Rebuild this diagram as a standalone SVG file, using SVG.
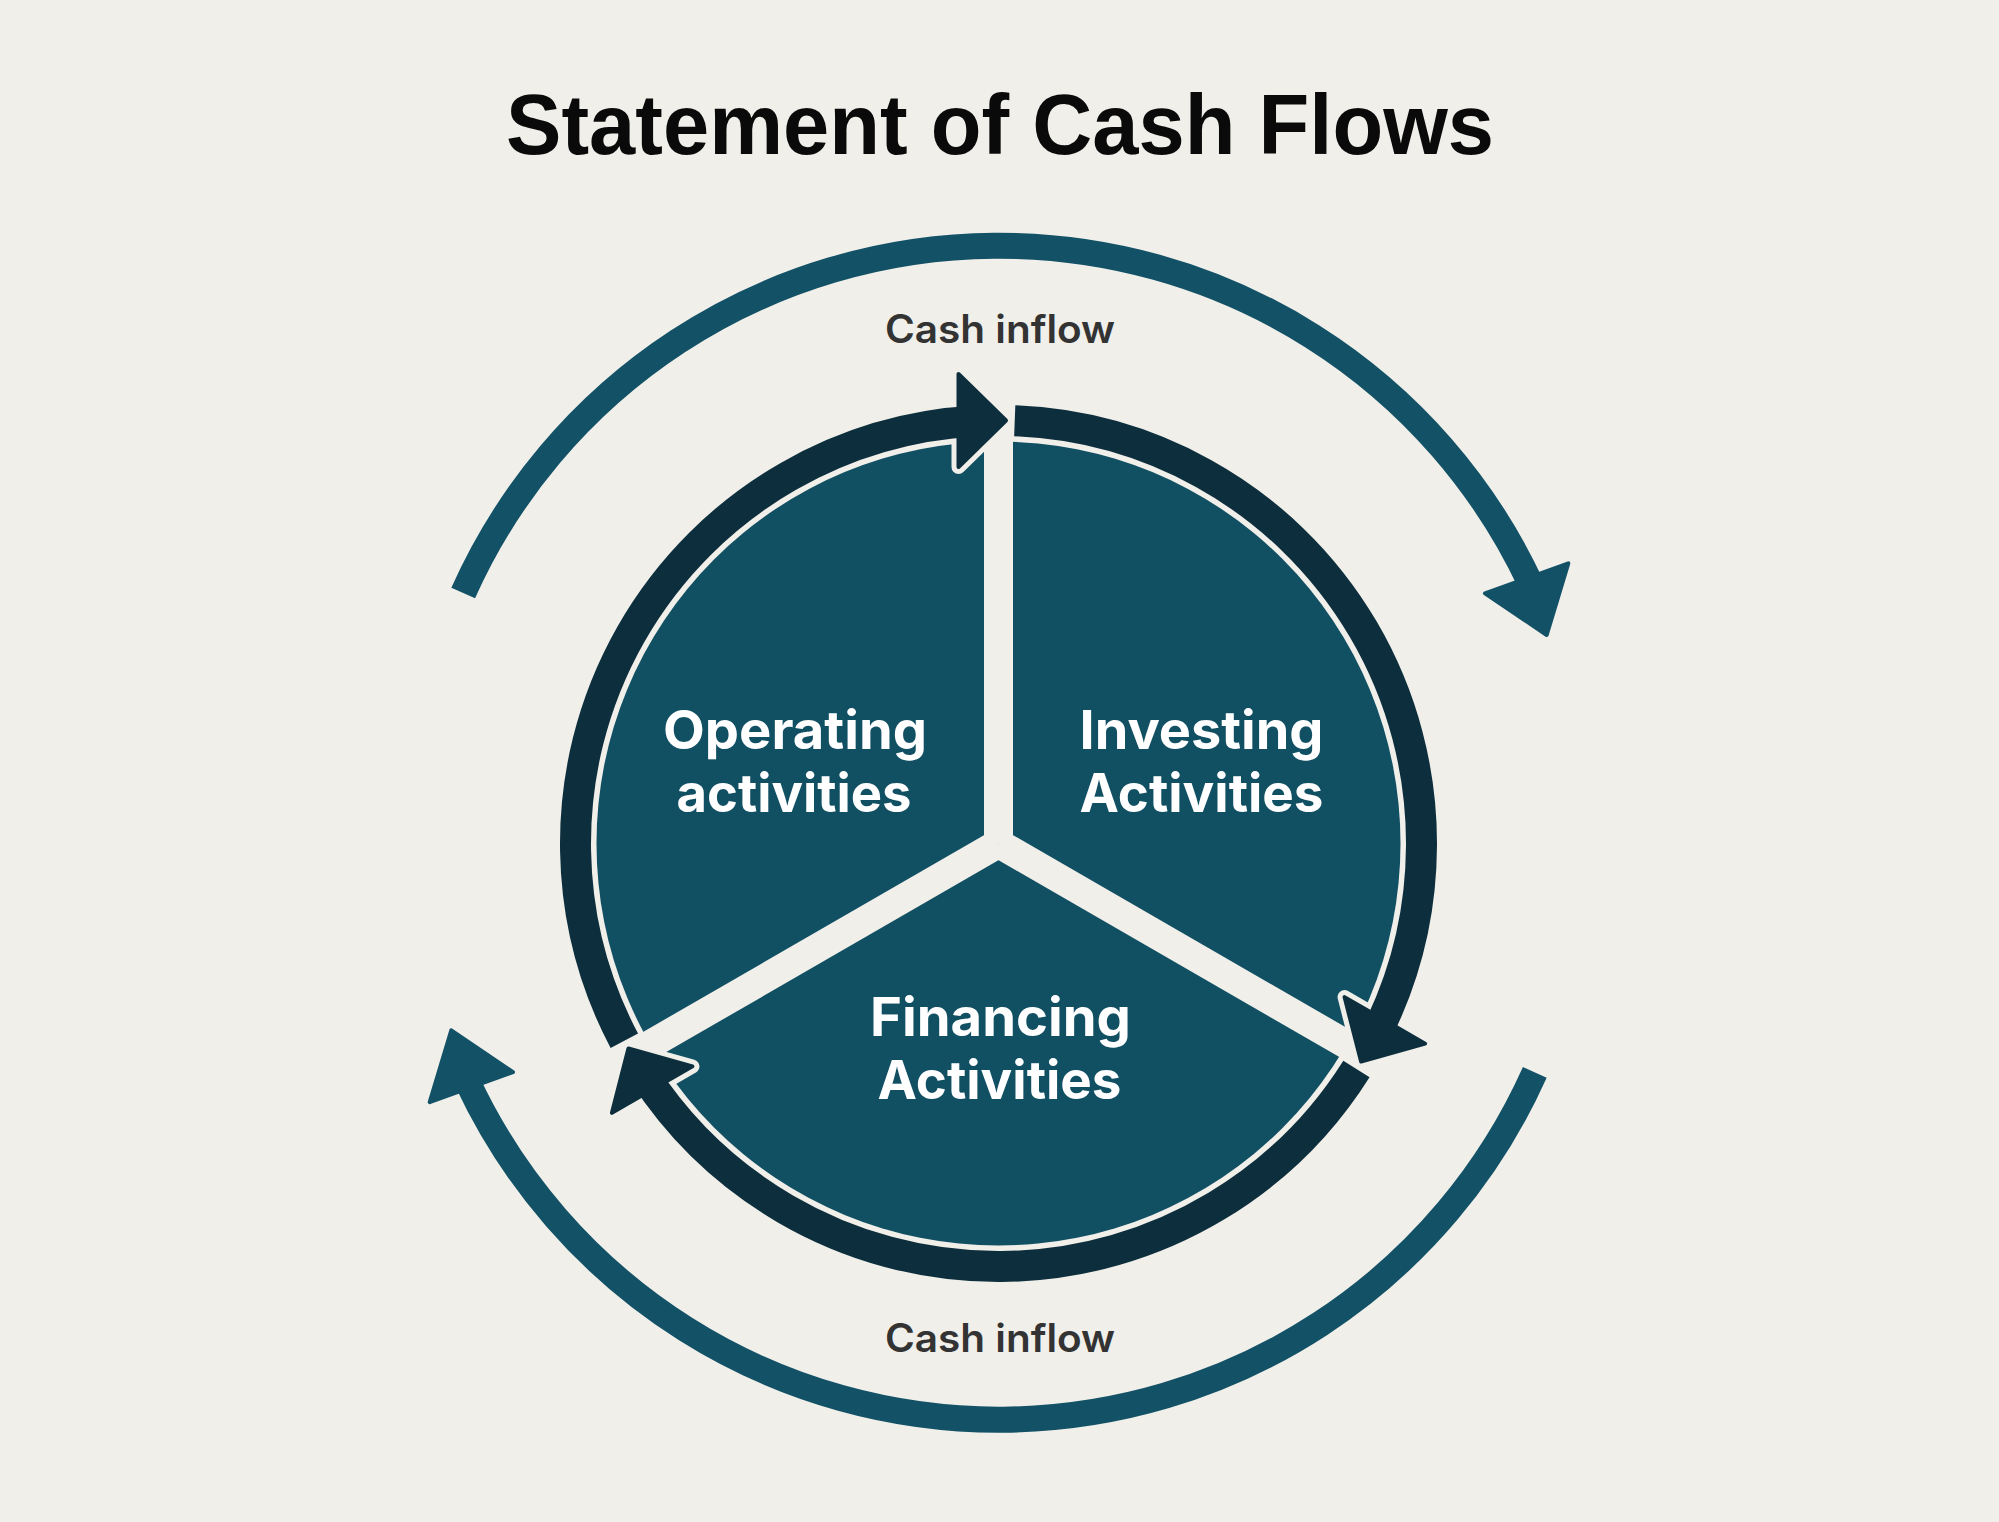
<svg xmlns="http://www.w3.org/2000/svg" xmlns:xlink="http://www.w3.org/1999/xlink" width="1999" height="1522" viewBox="0 0 1999 1522">
  <style>
    .bg { fill: #f0efea; }
    .title { font-family: "Liberation Sans", Arial, sans-serif; font-weight: 700; font-size: 86px; fill: #0a0a0a; }
    .flowlbl { font-family: Inter, "Liberation Sans", sans-serif; font-weight: 600; font-size: 39px; fill: #333333; }
    .lbl { font-family: Inter, "Liberation Sans", sans-serif; font-weight: 700; font-size: 53px; fill: #ffffff; }
    .pie { fill: #114f63; }
    .gap { stroke: #f0efea; stroke-width: 29; fill: none; }
    .ring { stroke: #0d2e3c; stroke-width: 31; fill: none; }
    .ahOut { fill: #f0efea; stroke: #f0efea; stroke-width: 14; stroke-linejoin: round; }
    .ahFill { fill: #0d2e3c; stroke: #0d2e3c; stroke-width: 4; stroke-linejoin: round; }
    .outer { stroke: #125166; stroke-width: 26; fill: none; }
    .outerHead { fill: #125166; stroke: #125166; stroke-width: 4; stroke-linejoin: round; }
  </style>
  <defs>
    <path id="ringSeg" d="M 624.32 1040.78 A 423 423 0 0 1 976.36 421.08"/>
    <polygon id="ah" points="958.5,374 958.5,467 1006,420.5"/>
    <g id="outerArrow">
      <path class="outer" d="M 463.2 593.0 A 587 587 0 0 1 1531.0 584.6"/>
      <polygon class="outerHead" points="1485,593.3 1568.3,563.3 1546.7,635"/>
    </g>
  </defs>

  <rect class="bg" x="0" y="0" width="1999" height="1522"/>

  <text class="title" x="1000" y="154" text-anchor="middle" textLength="988" lengthAdjust="spacingAndGlyphs">Statement of Cash Flows</text>

  <!-- pie base with section gaps -->
  <g id="nodes-base">
    <circle class="pie" cx="998.5" cy="843.5" r="402"/>
    <line class="gap" x1="998.5" y1="843.5" x2="998.5" y2="380"/>
    <line class="gap" x1="998.5" y1="843.5" x2="1400" y2="1075.3"/>
    <line class="gap" x1="998.5" y1="843.5" x2="597" y2="1075.3"/>
  </g>

  <g id="node-operating">
    <text class="lbl" x="795" y="749" text-anchor="middle" textLength="264" lengthAdjust="spacingAndGlyphs">Operating</text>
    <text class="lbl" x="794" y="812" text-anchor="middle" textLength="235" lengthAdjust="spacingAndGlyphs">activities</text>
  </g>
  <g id="node-investing">
    <text class="lbl" x="1201.5" y="749" text-anchor="middle" textLength="244" lengthAdjust="spacingAndGlyphs">Investing</text>
    <text class="lbl" x="1201.5" y="812" text-anchor="middle" textLength="244" lengthAdjust="spacingAndGlyphs">Activities</text>
  </g>
  <g id="node-financing">
    <text class="lbl" x="1000.5" y="1036" text-anchor="middle" textLength="261" lengthAdjust="spacingAndGlyphs">Financing</text>
    <text class="lbl" x="999.5" y="1099" text-anchor="middle" textLength="244" lengthAdjust="spacingAndGlyphs">Activities</text>
  </g>

  <g id="connectors">
    <!-- inner cycle ring -->
    <use xlink:href="#ah" class="ahOut"/>
    <use xlink:href="#ah" class="ahOut" transform="rotate(120 998.5 843.5)"/>
    <use xlink:href="#ah" class="ahOut" transform="rotate(240 998.5 843.5)"/>
    <use xlink:href="#ringSeg" class="ring"/>
    <use xlink:href="#ringSeg" class="ring" transform="rotate(120 998.5 843.5)"/>
    <use xlink:href="#ringSeg" class="ring" transform="rotate(240 998.5 843.5)"/>
    <use xlink:href="#ah" class="ahFill"/>
    <use xlink:href="#ah" class="ahFill" transform="rotate(120 998.5 843.5)"/>
    <use xlink:href="#ah" class="ahFill" transform="rotate(240 998.5 843.5)"/>

    <!-- outer cash inflow arrows -->
    <use xlink:href="#outerArrow"/>
    <use xlink:href="#outerArrow" transform="rotate(180 999 832.7)"/>
    <text class="flowlbl" x="1000" y="343" text-anchor="middle" textLength="230" lengthAdjust="spacingAndGlyphs">Cash inflow</text>
    <text class="flowlbl" x="1000" y="1352" text-anchor="middle" textLength="230" lengthAdjust="spacingAndGlyphs">Cash inflow</text>
  </g>
</svg>
